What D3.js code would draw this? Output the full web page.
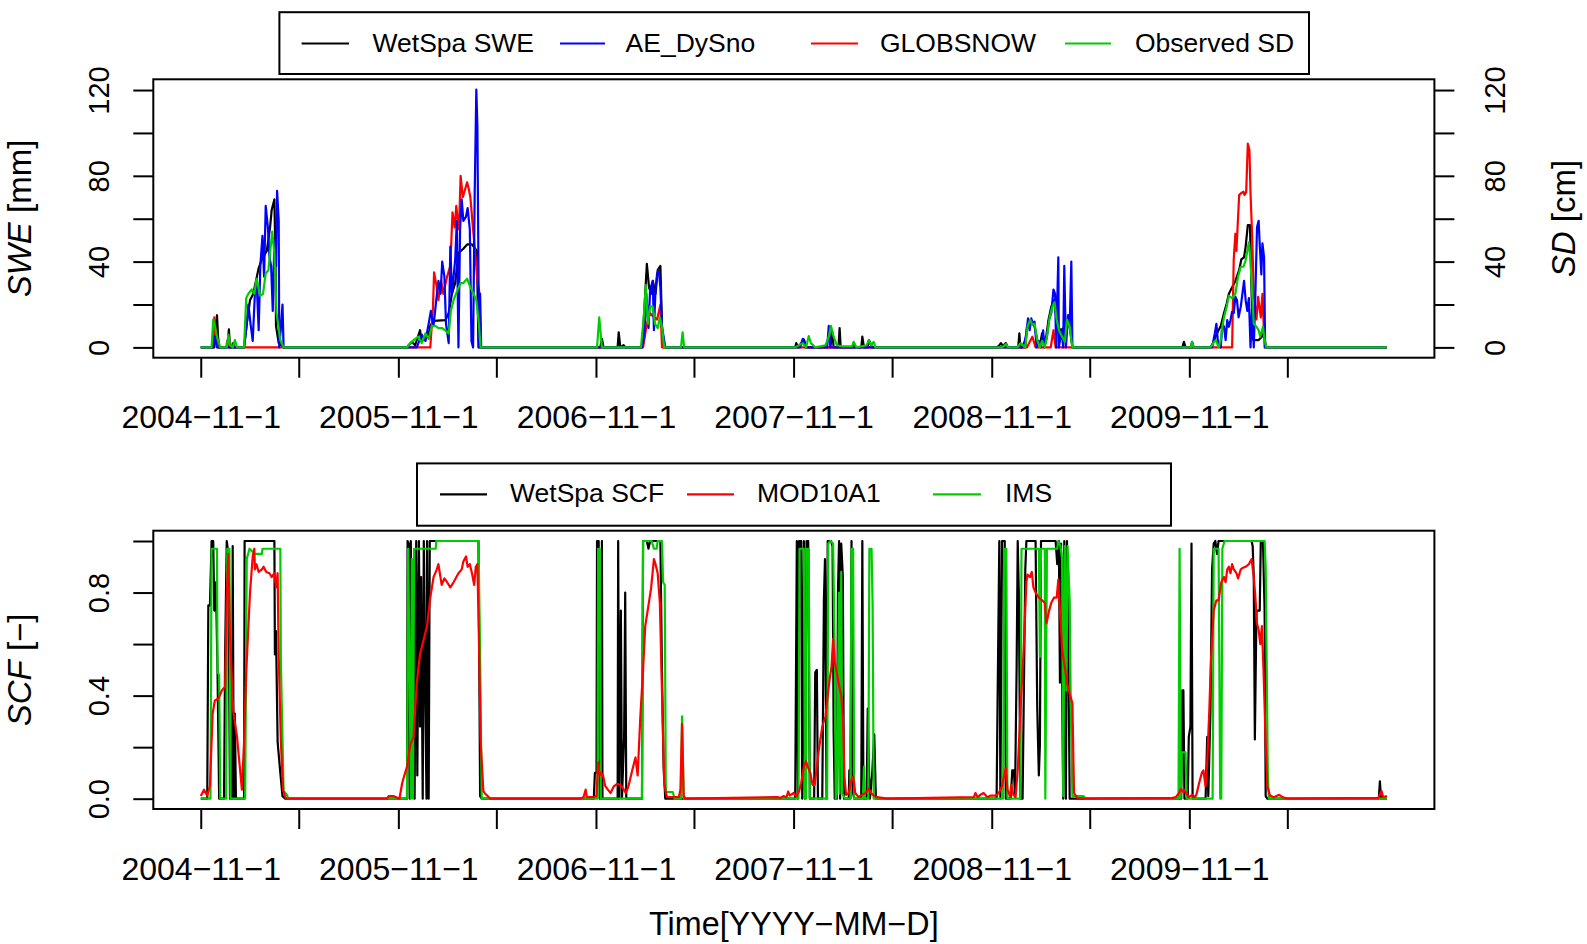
<!DOCTYPE html>
<html><head><meta charset="utf-8">
<script src="https://cdn.jsdelivr.net/npm/d3@7"></script>
<style>
body{margin:0;background:#fff}
svg text{font-family:"Liberation Sans",Arial,Helvetica,sans-serif;fill:#000}
</style>
</head><body>
<svg id="chart" width="1587" height="944"></svg>
<script>
// ---------------- DATA (day offsets from startDate, value) ----------------
const startDate = "2004-11-01";
const endDay = 2191;
const xTickDates = ["2004-11-01","2005-05-01","2005-11-01","2006-05-01","2006-11-01","2007-05-01",
                    "2007-11-01","2008-05-01","2008-11-01","2009-05-01","2009-11-01","2010-05-01"];
const xTickLabels = ["2004\u221211\u22121","","2005\u221211\u22121","","2006\u221211\u22121","",
                     "2007\u221211\u22121","","2008\u221211\u22121","","2009\u221211\u22121",""];
const sweTicks = [0,20,40,60,80,100,120];
const sweTickLabels = ["0","","40","","80","","120"];
const scfTicks = [0,0.2,0.4,0.6,0.8,1.0];
const scfTickLabels = ["0.0","","0.4","","0.8",""];

const topLegendLabels = ["WetSpa SWE","AE_DySno","GLOBSNOW","Observed SD"];
const bottomLegendLabels = ["WetSpa SCF","MOD10A1","IMS"];

// WetSpa SWE [mm]
const sweWetSpa = [[0,0],[25,0],[27,8],[30,15],[32,5],[34,0],[49,0],[52,8.4],[54,0],[58,0],[59,1.9],[62,0],[80,0],[85,11],[91,22],[97,25],[107,37],[113,41],[122,45],[128,56],[131,64],[136,69],[138,41],[139,10],[144,2],[153,0],
[381,0],[384,1],[390,2.6],[396,1],[405,8],[408,3],[415,4],[421,6],[424,10],[430,12.4],[452,12.7],[458,16],[464,25],[470,30],[476,44],[485,46],[492,48],[501,48],[507,46],[510,45],[513,0],
[738,0],[741,4],[744,0],[770,0],[772,7],[775,0],[781,1],[784,0],[815,0],[819,16],[824,39],[828,28],[832,25],[835,31],[840,25],[844,36],[849,38],[852,10],[855,0],
[1098,0],[1100,2],[1103,0],[1111,2.6],[1114,3.7],[1119,0],[1163,0],[1166,8],[1169,0],[1178,0],[1180,9],[1182,0],[1205,0],[1206,2],[1208,0],[1220,0],[1222,5],[1225,0],[1232,0],[1234,3.4],[1237,1.9],[1240,0],
[1471,0],[1475,1],[1478,2],[1482,0.6],[1487,2],[1491,0],[1510,0],[1512,6.5],[1514,0],[1523,0],[1526,9.6],[1533,12.7],[1539,11],[1545,3.4],[1550,1],[1554,6.5],[1560,2],[1566,13],[1571,19],[1576,22],[1579,16],[1583,9.6],[1588,8],[1593,8.8],[1597,5],[1601,13],[1605,9.6],[1610,0],
[1813,0],[1816,2.6],[1819,0],[1829,0],[1831,2.6],[1834,0],[1865,0],[1870,2],[1877,6.5],[1884,10],[1890,16],[1895,20.5],[1899,25],[1905,28],[1911,31],[1918,36],[1922,41],[1927,42],[1930,47],[1934,57],[1938,57],[1941,25],[1944,3.4],[1948,3.4],[1954,3.4],[1960,5],[1963,9.6],[1967,0],[2191,0]];

// AE_DySno SWE [mm]
const sweAEDySno = [[0,0],[23,0],[26,5],[30,0],[80,0],[85,11],[88,20],[92,11],[96,3],[100,25],[103,32],[107,8],[110,38],[114,52],[117,33],[120,66],[124,56],[127,42],[130,38],[133,17],[136,50],[139,38],[141,73],[144,59],[145,0],[148,9],[151,20],[153,0],
[399,0],[408,6],[415,3],[421,11],[425,17],[430,10],[435,22],[439,31],[443,25],[446,40],[450,33],[453,11],[458,2],[461,47],[464,25],[467,33],[470,41],[473,59],[476,0],[479,55],[482,69],[485,59],[490,61],[493,65],[497,55],[500,3],[503,0],[506,72],[509,120.2],[511,103],[514,0],[516,25],[518,0],
[815,0],[819,5],[823,25],[827,9],[830,27],[835,31],[837,8],[840,27],[843,34.5],[846,36],[849,28],[852,9],[855,5],[858,0],
[1107,0],[1112,4],[1117,0],[1157,0],[1160,10],[1163,0],
[1517,0],[1522,3],[1525,6.5],[1528,13.5],[1531,8],[1534,13.5],[1537,11],[1540,12],[1544,0],[1548,3],[1552,0],[1556,8],[1558,0],[1563,5],[1567,13],[1571,16],[1575,27],[1578,25],[1580,0],[1584,42],[1585,0],[1590,8],[1593,0],[1595,38],[1598,0],[1602,15],[1605,9.6],[1608,40],[1610,0],
[1868,0],[1873,6.5],[1876,11],[1879,2],[1884,0],[1887,11],[1890,9.6],[1893,3.4],[1896,12.7],[1899,9.6],[1902,12.7],[1905,16.6],[1908,16],[1911,23.6],[1914,22],[1917,14],[1921,19],[1924,25],[1927,31],[1930,22],[1933,17],[1936,23],[1939,0],[1942,19],[1945,0],[1948,25],[1951,56],[1954,59],[1956,48],[1959,34],[1961,48.5],[1964,42],[1966,0],[2191,0]];

// GLOBSNOW SWE [mm]
const sweGlobSnow = [[0,0],[22,0],[25,14],[28,5],[31,0],[47,0],[49,3],[52,0],
[424,0],[429,19],[431,35],[436,28],[439,22],[444,31],[448,25],[455,33],[461,38],[465,63],[469,56],[472,66],[474,61],[477,55],[480,80],[484,70],[487,72.6],[492,77],[495,74],[498,70],[503,55],[507,44],[511,31],[515,25],[517,0],
[817,0],[824,11],[830,16],[837,14],[843,13],[849,20],[852,0],
[1526,0],[1536,5],[1542,0],[1570,0],[1575,8],[1579,0],
[1905,0],[1908,41],[1911,53],[1913,45],[1918,71],[1922,72],[1926,72.6],[1928,71],[1931,72.5],[1934,95],[1937,92],[1939,72],[1942,52],[1945,25],[1950,13],[1953,23.6],[1958,14],[1961,25],[1965,0],[2191,0]];

// Observed snow depth [cm]
const sdObserved = [[0,0],[20,0],[23,13],[27,9],[30,5],[36,0],[48,0],[51,6],[54,1],[59,0],[63,3.4],[67,0],[80,0],[84,23],[88,25],[94,27],[99,25],[103,32],[110,24],[115,25],[120,34.5],[125,36],[128,44],[132,54],[136,44],[140,16],[147,3.4],[153,0],
[381,0],[387,2],[396,4],[402,5],[408,2],[415,6.5],[421,4],[427,10],[433,10],[439,9],[446,9],[452,7.8],[458,6.5],[462,17],[467,22],[473,26],[480,30],[485,30],[492,32],[498,28],[504,25],[509,22],[513,13],[517,0],
[732,0],[736,14],[741,0],[813,0],[818,13],[822,29],[826,11],[830,19],[835,19],[839,11],[844,9],[848,14],[852,9.6],[856,0],[887,0],[890,7],[893,0],
[1098,0],[1112,2],[1118,0],[1123,5.3],[1127,2],[1135,0],[1154,1],[1160,5],[1164,10],[1169,5],[1175,1],[1185,0.5],[1203,0.5],[1206,2.6],[1211,0],[1230,1],[1234,3.4],[1238,1],[1243,2.6],[1246,0],
[1480,0],[1487,1.6],[1491,0],[1509,0],[1514,2],[1523,0],[1527,9.6],[1532,13],[1536,10.4],[1540,11],[1545,3.4],[1550,0],[1554,3],[1559,0],[1563,5],[1568,14],[1573,19],[1577,21],[1581,13],[1585,8],[1591,5],[1596,2.6],[1600,13],[1605,9.6],[1610,0],
[1829,0],[1831,2.6],[1834,0],[1865,0],[1870,2],[1875,3.4],[1880,0],[1884,3.4],[1887,9.6],[1890,14],[1895,19],[1899,24],[1905,23],[1911,25],[1916,33],[1921,37.6],[1926,37.6],[1930,40.6],[1936,49],[1939,40.6],[1942,25],[1945,11],[1950,9.6],[1954,8],[1957,5],[1962,9.6],[1965,3.4],[1968,0],[2191,0]];

// WetSpa SCF [-]
const scfWetSpa = [[0,0],[12,0],[14,0.75],[17,0.75],[20,1],[23,1],[25,0.73],[28,0.84],[31,0.49],[34,0],[43,0],[45,0.56],[48,1],[51,0.95],[54,0],[58,0],[59,0.98],[61,0],[63,0.33],[65,0],[80,0],[81,1],[136,1],[137,0.56],[139,0.65],[142,0.22],[147,0.1],[151,0.01],[156,0],
[381,0],[382,1],[384,0.99],[386,0],[388,1],[391,0.09],[393,0.86],[395,0],[398,1],[400,0.09],[403,1],[405,0.28],[407,0.86],[410,0],[412,1],[415,0.34],[417,0],[418,1],[421,0],[423,1],[513,1],[516,0.01],[519,0],
[726,0],[728,0.1],[731,0.1],[732,1],[735,1],[737,0],[739,0],[741,1],[742,0],[770,0],[771,1],[773,0],[776,0.73],[778,0],[782,0.24],[784,0.8],[786,0],[815,0],[817,1],[824,1],[827,0.97],[830,1],[849,1],[852,0.47],[855,0.125],[858,0],
[1098,0],[1101,1],[1103,0],[1105,1],[1109,1],[1111,0],[1114,1],[1116,0],[1119,1],[1122,1],[1125,0],[1133,0],[1135,0.49],[1138,0.5],[1140,0],[1148,0],[1151,0.77],[1153,0.93],[1156,0],[1158,1],[1164,1],[1167,0.98],[1169,0.26],[1171,0],[1175,0],[1177,0.81],[1179,1],[1181,0],[1183,0.99],[1186,0.86],[1188,0],[1197,0],[1198,0.11],[1200,0],[1202,1],[1205,0.02],[1207,0],[1220,0],[1222,1],[1224,0],[1230,0],[1232,0.35],[1234,0.13],[1236,0],[1240,0.09],[1244,0.25],[1247,0],
[1470,0],[1472,0.42],[1475,1],[1477,0],[1480,1],[1485,1],[1487,0],[1496,0],[1499,0.11],[1502,0.11],[1504,0.01],[1507,0.51],[1509,1],[1511,0.8],[1514,0],[1518,0],[1520,0.36],[1523,0.89],[1525,1],[1542,1],[1545,0.36],[1548,0.09],[1550,0.21],[1552,1],[1579,1],[1582,0.91],[1585,1],[1587,0.45],[1589,0.99],[1591,0.44],[1593,0],[1595,1],[1598,0],[1600,1],[1603,0.47],[1605,0],[1610,0],
[1811,0],[1813,0.42],[1815,0.42],[1817,0],[1823,0],[1825,0.24],[1828,0.28],[1830,0.99],[1832,0],[1856,0],[1859,0.24],[1861,0.01],[1865,0.34],[1868,0.89],[1871,0.99],[1874,1],[1877,0.95],[1880,1],[1941,1],[1943,0.98],[1945,0.86],[1947,0.23],[1950,0.73],[1956,0.73],[1958,1],[1962,1],[1965,0.73],[1967,0.01],[1970,0],
[2176,0],[2178,0.067],[2180,0],[2191,0]];

// MOD10A1 SCF [-]
const scfMOD10A1 = [[0,0.01],[6,0.035],[12,0.012],[17,0.05],[22,0.33],[26,0.38],[33,0.39],[39,0.42],[45,0.435],[48,0.78],[51,0.95],[54,0.63],[60,0.34],[67,0.24],[76,0.035],[80,0.22],[84,0.49],[91,0.8],[96,0.94],[99,0.97],[100,0.89],[103,0.91],[107,0.88],[113,0.89],[116,0.9],[121,0.88],[127,0.875],[131,0.86],[136,0.875],[139,0.82],[142,0.875],[144,0.55],[148,0.22],[152,0.035],[156,0.006],[159,0],
[344,0],[347,0.01],[356,0.01],[367,0],[372,0.06],[376,0.09],[381,0.125],[387,0.21],[393,0.24],[399,0.45],[405,0.56],[418,0.67],[424,0.78],[430,0.86],[436,0.89],[439,0.91],[442,0.87],[445,0.83],[450,0.855],[455,0.84],[461,0.82],[467,0.84],[476,0.875],[482,0.89],[485,0.92],[490,0.94],[493,0.9],[497,0.91],[501,0.875],[505,0.83],[508,0.9],[511,0.91],[514,0.6],[517,0.22],[522,0.03],[525,0.02],[530,0.01],[535,0],
[701,0],[707,0.006],[711,0.035],[713,0.006],[726,0.006],[731,0.01],[734,0.14],[737,0.09],[740,0.1],[743,0.09],[747,0.05],[752,0.035],[757,0.022],[763,0.048],[769,0.057],[775,0.054],[780,0.04],[785,0.022],[790,0.048],[797,0.11],[803,0.16],[807,0.09],[812,0.32],[817,0.5],[821,0.67],[827,0.75],[832,0.82],[837,0.93],[840,0.91],[844,0.875],[848,0.76],[852,0.41],[856,0.06],[861,0.006],[883,0.006],[886,0.035],[889,0.29],[892,0.01],[895,0],
[1065,0.006],[1071,0.003],[1076,0.01],[1082,0.006],[1085,0.028],[1088,0.012],[1095,0.022],[1100,0.01],[1105,0.028],[1109,0.06],[1114,0.125],[1118,0.145],[1121,0.125],[1126,0.1],[1130,0.054],[1134,0.054],[1141,0.18],[1148,0.28],[1154,0.32],[1158,0.4],[1162,0.47],[1165,0.51],[1168,0.62],[1171,0.53],[1174,0.5],[1179,0.44],[1183,0.4],[1186,0.32],[1189,0.086],[1192,0.015],[1197,0.022],[1201,0.067],[1205,0.086],[1209,0.022],[1215,0.006],[1221,0.015],[1228,0.022],[1234,0.04],[1238,0.022],[1243,0.012],[1249,0.006],[1268,0],
[1428,0.006],[1431,0.022],[1435,0.006],[1440,0.015],[1446,0.022],[1453,0.006],[1459,0.012],[1468,0.012],[1474,0.022],[1480,0.048],[1487,0.12],[1490,0.035],[1495,0.009],[1497,0.054],[1501,0.015],[1505,0.006],[1509,0.11],[1514,0.34],[1520,0.58],[1525,0.84],[1527,0.87],[1532,0.86],[1535,0.88],[1538,0.82],[1542,0.8],[1548,0.78],[1554,0.77],[1559,0.76],[1562,0.68],[1567,0.73],[1571,0.76],[1576,0.78],[1581,0.78],[1584,0.85],[1587,0.73],[1591,0.58],[1596,0.51],[1600,0.45],[1606,0.4],[1610,0.37],[1613,0.022],[1619,0.003],[1637,0],
[1795,0.003],[1801,0.006],[1807,0.022],[1810,0.038],[1813,0.028],[1816,0.035],[1820,0.022],[1825,0.006],[1831,0.015],[1836,0.006],[1839,0.015],[1844,0.06],[1849,0.1],[1852,0.11],[1856,0.048],[1859,0.14],[1863,0.35],[1866,0.54],[1871,0.73],[1876,0.77],[1880,0.77],[1885,0.84],[1890,0.86],[1893,0.84],[1896,0.89],[1899,0.9],[1902,0.875],[1905,0.91],[1908,0.89],[1913,0.875],[1916,0.855],[1921,0.89],[1924,0.895],[1930,0.9],[1936,0.91],[1941,0.93],[1945,0.86],[1948,0.78],[1951,0.68],[1954,0.655],[1957,0.6],[1960,0.67],[1963,0.5],[1967,0.22],[1970,0.048],[1975,0.012],[1982,0.006],[1992,0.015],[1998,0.006],[2007,0],[2175,0.003],[2181,0.03],[2184,0.006],[2191,0.01]];

// IMS SCF [-]
const scfIMS = [[0,0],[18,0],[20,0.97],[30,0.97],[31,0.49],[34,0.48],[36,0],[47,0],[49,0.97],[53,0.97],[55,0],[82,0],[85,0.93],[90,0.97],[100,0.95],[113,0.95],[114,0.97],[147,0.97],[148,0.53],[153,0.03],[159,0.015],[162,0],
[381,0],[383,0.97],[386,0.47],[388,0],[390,0.93],[392,0],[394,0.97],[434,0.97],[435,1],[513,1],[516,0.55],[519,0],
[733,0],[734,0.97],[737,0.97],[739,0],[815,0],[817,1],[833,1],[837,0.97],[842,0.97],[844,1],[852,1],[854,0.84],[857,0.83],[859,0.026],[872,0.026],[875,0],[887,0],[889,0.32],[892,0],
[1104,0],[1106,0.97],[1114,0.97],[1116,0],[1118,0],[1119,0.97],[1123,0.97],[1125,0],[1157,0],[1159,0.99],[1163,1],[1168,0.99],[1171,0.56],[1173,0],[1175,0.02],[1179,0.8],[1180,0.02],[1183,0.88],[1185,0.02],[1190,0],[1200,0],[1202,0.97],[1205,0.97],[1207,0],[1223,0],[1225,0.125],[1227,0],[1233,0],[1235,0.97],[1239,0.97],[1241,0.75],[1243,0],
[1482,0],[1484,0.97],[1488,0.97],[1490,0],[1514,0],[1516,0.97],[1548,0.97],[1550,0.55],[1552,0.97],[1559,0.97],[1560,0],[1563,0.97],[1582,0.97],[1584,1],[1588,0.98],[1591,0.93],[1593,0.01],[1596,0.98],[1599,0.42],[1601,0.98],[1605,0.77],[1607,0.35],[1610,0.01],[1631,0.01],[1633,0],
[1806,0],[1808,0.97],[1810,0],[1812,0.18],[1819,0.18],[1821,0],[1869,0],[1871,0.97],[1880,0.97],[1883,0],[1885,0],[1887,0.97],[1891,1],[1965,1],[1967,0.9],[1971,0.09],[1973,0],[2191,0]];

// ---------------- DRAWING ----------------
const FONT_TICK_X = 32, FONT_TICK_Y = 29, FONT_LEG = 26.5, FONT_TITLE = 33, FONT_XTITLE = 32.3;
const svg = d3.select("#chart");
const L = 153.3, R = 1434.4;
const P1 = {top: 79.3, bottom: 357.7};
const P2 = {top: 530.7, bottom: 809};

const start = new Date(startDate + "T00:00:00Z");
const tickDays = xTickDates.map(s => d3.utcDay.count(start, new Date(s + "T00:00:00Z")));

const x = d3.scaleLinear().domain([-0.04*endDay, endDay*1.04]).range([L, R]);

const sweAll = [sweWetSpa, sweAEDySno, sweGlobSnow, sdObserved];
const sweMin = d3.min(sweAll, s => d3.min(s, d => d[1]));
const sweMax = d3.max(sweAll, s => d3.max(s, d => d[1]));
const sweR = sweMax - sweMin;
const ySwe = d3.scaleLinear().domain([sweMin - 0.04*sweR, sweMax + 0.04*sweR]).range([P1.bottom, P1.top]);
const yScf = d3.scaleLinear().domain([-0.04, 1.04]).range([P2.bottom, P2.top]);

function styleAxis(g){
  g.attr("font-size", null).attr("font-family", null);
  g.select(".domain").remove();
  g.selectAll(".tick line").attr("stroke", "#000").attr("stroke-width", 2);
}

function drawXAxis(yPos){
  const g = svg.append("g").attr("transform", `translate(0,${yPos})`)
    .call(d3.axisBottom(x).tickValues(tickDays).tickFormat((d,i) => xTickLabels[i]).tickSize(20).tickPadding(0));
  styleAxis(g);
  g.selectAll(".tick text").attr("y", 70.8).attr("dy", null)
    .attr("text-anchor", "middle").style("font-size", FONT_TICK_X + "px");
}

function drawYAxes(scale, ticks, labels, right){
  const gl = svg.append("g").attr("transform", `translate(${L},0)`)
    .call(d3.axisLeft(scale).tickValues(ticks).tickFormat((d,i) => labels[i]).tickSize(20));
  styleAxis(gl);
  gl.selectAll(".tick text").attr("x", null).attr("dy", null).attr("text-anchor", "middle")
    .attr("transform", "translate(-44.3,0) rotate(-90)").style("font-size", FONT_TICK_Y + "px");
  if (right){
    const gr = svg.append("g").attr("transform", `translate(${R},0)`)
      .call(d3.axisRight(scale).tickValues(ticks).tickFormat((d,i) => labels[i]).tickSize(20));
    styleAxis(gr);
    gr.selectAll(".tick text").attr("x", null).attr("dy", null).attr("text-anchor", "middle")
      .attr("transform", "translate(70.8,0) rotate(-90)").style("font-size", FONT_TICK_Y + "px");
  }
}

function drawSeries(data, yScale, color, clipId){
  const line = d3.line().x(d => x(d[0])).y(d => yScale(d[1]));
  svg.append("path").datum(data).attr("d", line)
    .attr("fill", "none").attr("stroke", color).attr("stroke-width", 2.2)
    .attr("stroke-linejoin", "round").attr("stroke-linecap", "butt")
    .attr("clip-path", `url(#${clipId})`);
}

const defs = svg.append("defs");
defs.append("clipPath").attr("id", "clip1").append("rect")
  .attr("x", L).attr("y", P1.top).attr("width", R - L).attr("height", P1.bottom - P1.top);
defs.append("clipPath").attr("id", "clip2").append("rect")
  .attr("x", L).attr("y", P2.top).attr("width", R - L).attr("height", P2.bottom - P2.top);

// --- top panel
drawSeries(sweWetSpa, ySwe, "#000000", "clip1");
drawSeries(sweGlobSnow, ySwe, "#FF0000", "clip1");
drawSeries(sweAEDySno, ySwe, "#0000FF", "clip1");
drawSeries(sdObserved, ySwe, "#00CD00", "clip1");
svg.append("rect").attr("x", L).attr("y", P1.top).attr("width", R - L).attr("height", P1.bottom - P1.top)
  .attr("fill", "none").attr("stroke", "#000").attr("stroke-width", 2);
drawXAxis(P1.bottom);
drawYAxes(ySwe, sweTicks, sweTickLabels, true);

// --- bottom panel
drawSeries(scfWetSpa, yScf, "#000000", "clip2");
drawSeries(scfIMS, yScf, "#00CD00", "clip2");
drawSeries(scfMOD10A1, yScf, "#FF0000", "clip2");
svg.append("rect").attr("x", L).attr("y", P2.top).attr("width", R - L).attr("height", P2.bottom - P2.top)
  .attr("fill", "none").attr("stroke", "#000").attr("stroke-width", 2);
drawXAxis(P2.bottom);
drawYAxes(yScf, scfTicks, scfTickLabels, false);

// --- axis titles
function rotTitle(xp, yp, italicPart, rest){
  const t = svg.append("text").attr("transform", `translate(${xp},${yp}) rotate(-90)`)
    .attr("text-anchor", "middle").style("font-size", FONT_TITLE + "px");
  t.append("tspan").style("font-style", "italic").text(italicPart);
  t.append("tspan").text(rest);
}
rotTitle(31, (P1.top + P1.bottom)/2, "SWE", " [mm]");
rotTitle(1575, (P1.top + P1.bottom)/2, "SD", " [cm]");
rotTitle(31, (P2.top + P2.bottom)/2, "SCF", " [\u2212]");
svg.append("text").attr("x", (L + R)/2).attr("y", 935).attr("text-anchor", "middle")
  .style("font-size", FONT_XTITLE + "px").text("Time[YYYY\u2212MM\u2212D]");

// --- legends
function legend(box, items){
  svg.append("rect").attr("x", box.x0).attr("y", box.y0).attr("width", box.x1 - box.x0).attr("height", box.y1 - box.y0)
    .attr("fill", "#fff").attr("stroke", "#000").attr("stroke-width", 2);
  items.forEach(it => {
    svg.append("line").attr("x1", it.lx0).attr("x2", it.lx1).attr("y1", box.ly).attr("y2", box.ly)
      .attr("stroke", it.color).attr("stroke-width", 2.2);
    svg.append("text").attr("x", it.tx).attr("y", box.ty).style("font-size", FONT_LEG + "px").text(it.label);
  });
}
const topColors = ["#000000","#0000FF","#FF0000","#00CD00"];
const topPos = [[301.6,349,372.5],[560,605,625.6],[811,858,880],[1065,1111,1135]];
legend({x0:279.4, x1:1309, y0:12.2, y1:74, ly:43.5, ty:52.3},
  topLegendLabels.map((l,i) => ({label:l, color:topColors[i], lx0:topPos[i][0], lx1:topPos[i][1], tx:topPos[i][2]})));
const botColors = ["#000000","#FF0000","#00CD00"];
const botPos = [[440,487,510],[687,734,757],[933,981,1005]];
legend({x0:417, x1:1171, y0:463.4, y1:525.7, ly:494.3, ty:501.5},
  bottomLegendLabels.map((l,i) => ({label:l, color:botColors[i], lx0:botPos[i][0], lx1:botPos[i][1], tx:botPos[i][2]})));
</script>
</body></html>
